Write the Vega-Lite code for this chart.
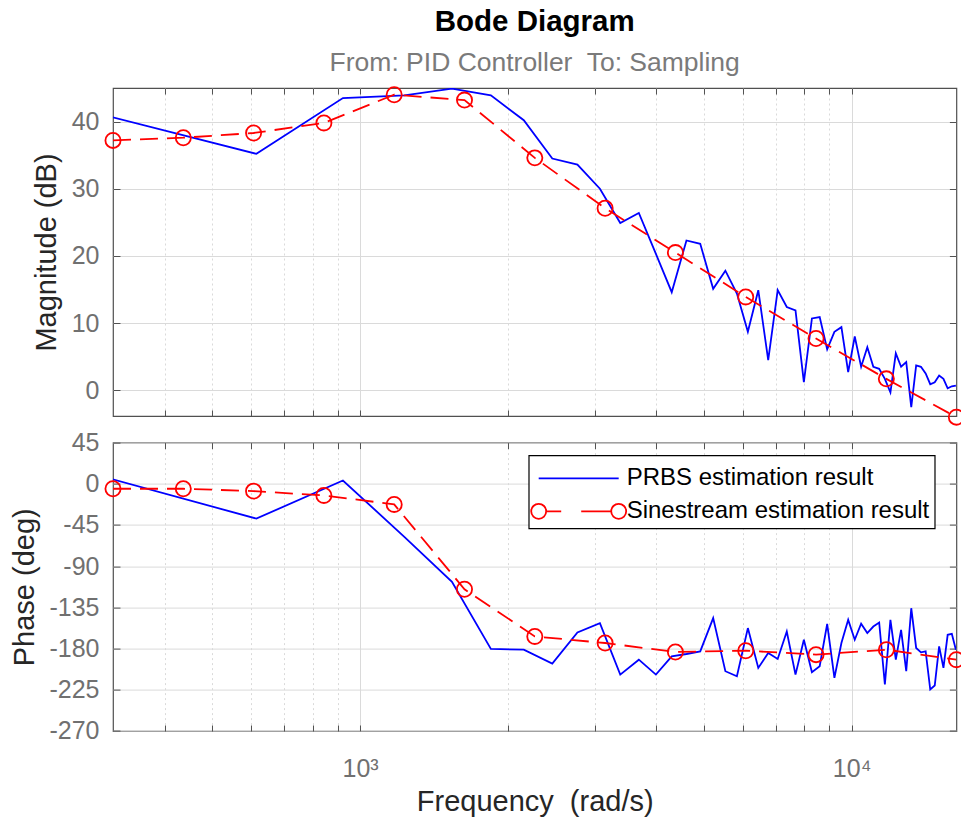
{
  "$schema": "https://vega.github.io/schema/vega-lite/v6.json",
  "background": "white",
  "padding": {"left": 10, "top": 6, "right": 2, "bottom": 2},
  "title": {
    "text": "Bode Diagram",
    "subtitle": "From: PID Controller\u00a0 To: Sampling",
    "anchor": "middle",
    "frame": "group",
    "font": "Liberation Sans",
    "fontSize": 29.5,
    "fontWeight": "bold",
    "color": "#000000",
    "subtitleFont": "Liberation Sans",
    "subtitleFontSize": 26.5,
    "subtitleColor": "#7a7a7a",
    "subtitlePadding": 13,
    "offset": 5
  },
  "datasets": {
    "prbs": [
      {"f": 307.5, "mag": 40.8, "phase": 6.1},
      {"f": 615, "mag": 35.2, "phase": -38.0},
      {"f": 922.5, "mag": 43.5, "phase": 3.6},
      {"f": 1230, "mag": 43.9, "phase": -57.9},
      {"f": 1537.5, "mag": 44.9, "phase": -107.0},
      {"f": 1845, "mag": 43.9, "phase": -180.4},
      {"f": 2152.5, "mag": 40.2, "phase": -181.2},
      {"f": 2460, "mag": 34.5, "phase": -196.4},
      {"f": 2767.5, "mag": 33.6, "phase": -162.4},
      {"f": 3075, "mag": 30.0, "phase": -152.2},
      {"f": 3382.5, "mag": 24.9, "phase": -208.4},
      {"f": 3690, "mag": 26.4, "phase": -192.1},
      {"f": 3997.5, "mag": 20.3, "phase": -208.4},
      {"f": 4305, "mag": 14.6, "phase": -188.5},
      {"f": 4612.5, "mag": 22.3, "phase": -185.9},
      {"f": 4920, "mag": 21.8, "phase": -183.0},
      {"f": 5227.5, "mag": 15.1, "phase": -146.7},
      {"f": 5535, "mag": 17.8, "phase": -204.7},
      {"f": 5842.5, "mag": 14.4, "phase": -210.2},
      {"f": 6150, "mag": 8.7, "phase": -157.6},
      {"f": 6457.5, "mag": 14.9, "phase": -201.1},
      {"f": 6765, "mag": 4.5, "phase": -184.8},
      {"f": 7072.5, "mag": 14.9, "phase": -191.3},
      {"f": 7380, "mag": 12.4, "phase": -161.3},
      {"f": 7687.5, "mag": 11.9, "phase": -208.4},
      {"f": 7995, "mag": 1.2, "phase": -170.3},
      {"f": 8302.5, "mag": 10.7, "phase": -205.8},
      {"f": 8610, "mag": 10.9, "phase": -199.3},
      {"f": 8917.5, "mag": 6.1, "phase": -152.9},
      {"f": 9225, "mag": 8.7, "phase": -212.0},
      {"f": 9532.5, "mag": 9.4, "phase": -173.9},
      {"f": 9840, "mag": 2.7, "phase": -148.6},
      {"f": 10147.5, "mag": 8.0, "phase": -170.3},
      {"f": 10455, "mag": 3.5, "phase": -152.9},
      {"f": 10762.5, "mag": 6.4, "phase": -163.0},
      {"f": 11070, "mag": 3.5, "phase": -155.9},
      {"f": 11377.5, "mag": 3.2, "phase": -151.5},
      {"f": 11685, "mag": 1.7, "phase": -219.2},
      {"f": 11992.5, "mag": -0.3, "phase": -148.6},
      {"f": 12300, "mag": 5.5, "phase": -192.1},
      {"f": 12607.5, "mag": 3.5, "phase": -159.5},
      {"f": 12915, "mag": 4.2, "phase": -204.7},
      {"f": 13222.5, "mag": -2.5, "phase": -135.9},
      {"f": 13530, "mag": 3.7, "phase": -179.3},
      {"f": 13837.5, "mag": 3.5, "phase": -184.1},
      {"f": 14145, "mag": 2.5, "phase": -183.0},
      {"f": 14452.5, "mag": 0.9, "phase": -224.7},
      {"f": 14760, "mag": 1.2, "phase": -220.3},
      {"f": 15067.5, "mag": 2.2, "phase": -177.6},
      {"f": 15375, "mag": 1.7, "phase": -201.1},
      {"f": 15682.5, "mag": 0.3, "phase": -164.9},
      {"f": 15990, "mag": 0.6, "phase": -163.8},
      {"f": 16297.5, "mag": 0.7, "phase": -181.2}
    ],
    "sine": [
      {"f": 314.16, "mag": 37.2, "phase": -5.4},
      {"f": 436.7, "mag": 37.6, "phase": -5.4},
      {"f": 607.0, "mag": 38.3, "phase": -8.0},
      {"f": 843.8, "mag": 39.8, "phase": -12.7},
      {"f": 1172.9, "mag": 44.0, "phase": -22.5},
      {"f": 1630.5, "mag": 43.2, "phase": -115.2},
      {"f": 2266.6, "mag": 34.6, "phase": -166.7},
      {"f": 3150.9, "mag": 27.1, "phase": -173.9},
      {"f": 4380.0, "mag": 20.5, "phase": -183.7},
      {"f": 6088.7, "mag": 13.9, "phase": -182.3},
      {"f": 8464.0, "mag": 7.7, "phase": -186.6},
      {"f": 11766, "mag": 1.7, "phase": -181.2},
      {"f": 16336, "mag": -4.0, "phase": -192.1}
    ]
  },
  "spacing": 0.6,
  "resolve": {"scale": {"color": "independent"}, "legend": {"color": "independent"}},
  "vconcat": [
    {
      "width": 843.4,
      "height": 328,
      "layer": [
        {
          "data": {"name": "prbs"},
          "mark": {"type": "line", "clip": true, "color": "#0000ff", "strokeWidth": 1.8},
          "encoding": {
            "x": {"field": "f", "type": "quantitative",
              "scale": {"type": "log", "domain": [314.16, 16336], "nice": false},
              "axis": {"orient": "bottom", "values": [400,500,600,700,800,900,1000,2000,3000,4000,5000,6000,7000,8000,9000,10000],
                "grid": true, "gridDash": {"condition": {"test": "datum.value === 1000 || datum.value === 10000", "value": []}, "value": [2, 3]},
                "tickSize": -6, "labels": false, "title": null}},
            "y": {"field": "mag", "type": "quantitative",
              "scale": {"domain": [-3.83, 45], "nice": false, "zero": false},
              "axis": {"orient": "left", "values": [0, 10, 20, 30, 40], "grid": true, "tickSize": -7, "labelPadding": 21,
                "labelExpr": "'' + datum.value",
                "title": "Magnitude (dB)", "titlePadding": 10}}
          }
        },
        {
          "data": {"name": "sine"},
          "mark": {"type": "line", "clip": true, "color": "#ff0000", "strokeWidth": 1.8, "strokeDash": [18, 9]},
          "encoding": {
            "x": {"field": "f", "type": "quantitative",
              "axis": {"orient": "top", "values": [400,500,600,700,800,900,1000,2000,3000,4000,5000,6000,7000,8000,9000,10000],
                "grid": false, "tickSize": -6, "labels": false, "title": null}},
            "y": {"field": "mag", "type": "quantitative",
              "axis": {"orient": "right", "values": [0, 10, 20, 30, 40], "grid": false, "tickSize": -7, "labels": false, "title": null}}
          }
        },
        {
          "data": {"name": "sine"},
          "mark": {"type": "point", "shape": "circle", "filled": false, "color": "#ff0000", "size": 230, "strokeWidth": 1.8, "opacity": 1},
          "encoding": {
            "x": {"field": "f", "type": "quantitative", "axis": null},
            "y": {"field": "mag", "type": "quantitative", "axis": null}
          }
        }
      ],
      "resolve": {"axis": {"x": "independent", "y": "independent"}}
    },
    {
      "width": 843.4,
      "height": 288.4,
      "layer": [
        {
          "data": {"name": "prbs"},
          "mark": {"type": "line", "clip": true, "strokeWidth": 1.8},
          "encoding": {
            "x": {"field": "f", "type": "quantitative",
              "scale": {"type": "log", "domain": [314.16, 16336], "nice": false},
              "axis": {"orient": "bottom", "values": [400,500,600,700,800,900,1000,2000,3000,4000,5000,6000,7000,8000,9000,10000],
                "grid": true, "gridDash": {"condition": {"test": "datum.value === 1000 || datum.value === 10000", "value": []}, "value": [2, 3]},
                "tickSize": -6, "labelPadding": 32,
                "labelExpr": "datum.value === 1000 ? '10\u00b3' : (datum.value === 10000 ? '10\u2074' : '')",
                "title": "Frequency\u00a0 (rad/s)", "titlePadding": 6}},
            "y": {"field": "phase", "type": "quantitative",
              "scale": {"domain": [-270, 45], "nice": false, "zero": false},
              "axis": {"orient": "left", "values": [-270, -225, -180, -135, -90, -45, 0, 45], "grid": true, "tickSize": -7, "labelPadding": 21,
                "labelExpr": "'' + datum.value",
                "title": "Phase (deg)", "titlePadding": 9}},
            "color": {"datum": "PRBS estimation result", "type": "nominal",
              "scale": {"domain": ["PRBS estimation result", "Sinestream estimation result"], "range": ["#0000ff", "#ff0000"]},
              "legend": {
                "orient": "none", "legendX": 415.7, "legendY": 12.7, "title": null,
                "symbolSize": 1156, "symbolOffset": 27, "symbolStrokeWidth": 1.8,
                "labelFont": "Liberation Sans", "labelFontSize": 24, "labelColor": "#000000", "labelOffset": 30, "labelLimit": 500,
                "padding": 5, "rowPadding": 3,
                "fillColor": "#ffffff", "strokeColor": "#000000",
                "encode": {
                  "legend": {"update": {"strokeWidth": {"value": 1.2}}},
                  "symbols": {"update": {
                    "shape": [
                      {"test": "datum.value === 'Sinestream estimation result'", "value": "M-2.794,0A0.441,0.441,0,1,0,-1.912,0A0.441,0.441,0,1,0,-2.794,0Z M1.912,0A0.441,0.441,0,1,0,2.794,0A0.441,0.441,0,1,0,1.912,0Z M-1.912,0H-1.029M0.147,0H1.912"},
                      {"value": "M-2.353,0H2.353"}
                    ],
                    "fill": {"value": "transparent"},
                    "strokeWidth": {"value": 1.8}
                  }}
                }
              }}
          }
        },
        {
          "data": {"name": "sine"},
          "mark": {"type": "line", "clip": true, "strokeWidth": 1.8, "strokeDash": [18, 9]},
          "encoding": {
            "x": {"field": "f", "type": "quantitative",
              "axis": {"orient": "top", "values": [400,500,600,700,800,900,1000,2000,3000,4000,5000,6000,7000,8000,9000,10000],
                "grid": false, "tickSize": -6, "labels": false, "title": null}},
            "y": {"field": "phase", "type": "quantitative",
              "axis": {"orient": "right", "values": [-270, -225, -180, -135, -90, -45, 0, 45], "grid": false, "tickSize": -7, "labels": false, "title": null}},
            "color": {"datum": "Sinestream estimation result", "type": "nominal"}
          }
        },
        {
          "data": {"name": "sine"},
          "mark": {"type": "point", "shape": "circle", "filled": false, "color": "#ff0000", "size": 230, "strokeWidth": 1.8, "opacity": 1},
          "encoding": {
            "x": {"field": "f", "type": "quantitative", "axis": null},
            "y": {"field": "phase", "type": "quantitative", "axis": null}
          }
        }
      ],
      "resolve": {"axis": {"x": "independent", "y": "independent"}}
    }
  ],
  "config": {
    "font": "Liberation Sans",
    "view": {"stroke": "#505050", "strokeWidth": 1.2},
    "axis": {
      "domain": false,
      "labelFont": "Liberation Sans", "labelFontSize": 25, "labelColor": "#707070",
      "titleFont": "Liberation Sans", "titleFontSize": 29, "titleFontWeight": "normal", "titleColor": "#262626",
      "tickColor": "#505050", "tickWidth": 1, "gridColor": "#dadada", "gridWidth": 1, "gridOpacity": 1
    }
  }
}
